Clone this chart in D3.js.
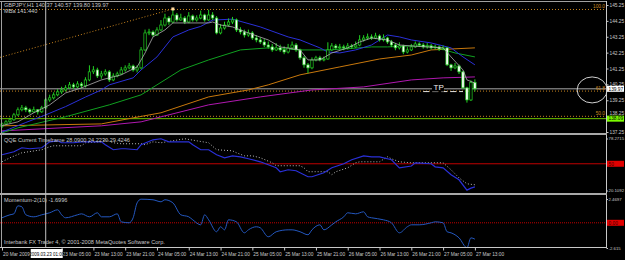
<!DOCTYPE html>
<html>
<head>
<meta charset="utf-8">
<script src="https://cdn.jsdelivr.net/npm/d3@7"></script>
<style>
body { margin: 0; background: #000; }
svg { display: block; }
text { font-family: "Liberation Sans", Arial, sans-serif; }
</style>
</head>
<body>
<div id="chart-area"></div>
<script>
// GBPJPY H1, 20-27 Mar 2009
const candleOpen = [137.60,137.76,137.89,138.02,138.33,138.65,138.77,138.65,138.52,138.65,
138.52,138.77,139.27,139.40,139.59,139.78,139.90,140.03,140.22,140.09,
140.28,140.16,140.53,141.04,141.16,140.78,140.91,141.04,140.53,140.78,
140.91,141.16,141.29,141.41,141.16,141.29,142.42,143.49,143.55,143.36,
143.68,143.99,144.43,144.18,144.62,144.31,144.43,144.18,144.56,144.31,
144.43,144.62,144.31,144.62,144.43,143.49,143.80,143.99,144.18,144.31,
143.68,143.55,143.36,143.49,143.17,143.05,142.92,142.73,142.61,142.42,
142.55,142.42,142.29,142.55,142.73,142.42,141.92,141.48,141.29,141.79,
141.92,141.79,141.85,142.42,142.67,142.55,142.61,142.55,142.67,142.61,
142.73,143.05,143.17,143.24,143.17,143.30,143.05,143.17,142.92,142.73,
142.55,142.67,142.29,142.42,142.61,142.80,142.73,142.61,142.67,142.55,
142.61,142.48,142.55,141.48,141.29,141.41,141.04,140.03,139.27,140.37]
const candleHigh = [137.85,138.00,138.15,138.45,138.80,138.95,138.90,138.75,138.85,138.70,
138.90,139.40,139.60,139.75,139.95,140.10,140.20,140.40,140.35,140.45,
140.40,140.70,141.45,141.40,141.30,141.10,141.20,141.15,140.95,141.05,
141.35,141.45,141.60,141.50,141.45,142.60,143.70,143.75,143.65,143.85,
144.30,144.70,144.55,145.05,144.75,144.70,144.55,144.80,144.65,144.60,
144.90,144.70,144.95,144.80,144.55,144.05,144.20,144.40,144.50,144.40,
143.85,143.70,143.70,143.60,143.35,143.20,143.10,142.95,142.80,142.85,
142.75,142.65,142.80,142.95,142.85,142.50,142.05,141.60,141.95,142.05,
142.05,142.00,142.90,142.85,142.80,142.80,142.75,142.85,142.80,142.95,
143.35,143.35,143.45,143.40,143.50,143.40,143.40,143.25,143.05,142.85,
142.90,142.75,142.60,142.80,142.95,142.90,142.85,142.85,142.80,142.75,
142.70,142.70,142.60,141.55,141.60,141.50,141.10,140.10,140.50,140.57]
const candleLow = [137.50,137.68,137.80,137.95,138.25,138.55,138.50,138.40,138.45,138.35,
138.45,138.70,139.15,139.30,139.50,139.65,139.80,139.95,139.95,140.00,
140.00,140.05,140.45,140.90,140.65,140.60,140.80,140.40,140.45,140.70,
140.85,141.05,141.20,141.05,141.00,141.20,142.35,143.35,143.25,143.30,
143.60,143.90,144.00,144.10,144.20,144.25,144.05,144.10,144.20,144.20,
144.35,144.20,144.25,144.30,143.40,143.40,143.70,143.90,144.05,143.55,
143.40,143.20,143.25,143.05,142.90,142.80,142.60,142.50,142.30,142.35,
142.30,142.15,142.20,142.45,142.30,141.80,141.30,140.95,141.20,141.70,
141.70,141.70,141.80,142.35,142.45,142.45,142.40,142.45,142.50,142.55,
142.65,142.95,143.05,143.05,143.10,142.95,142.95,142.80,142.60,142.40,
142.45,142.15,142.20,142.35,142.55,142.60,142.50,142.50,142.45,142.45,
142.35,142.40,141.40,141.10,141.20,140.90,139.95,139.10,139.20,139.80]
const candleClose = [137.76,137.89,138.02,138.33,138.65,138.77,138.65,138.52,138.65,138.52,
138.77,139.27,139.40,139.59,139.78,139.90,140.03,140.22,140.09,140.28,
140.16,140.53,141.04,141.16,140.78,140.91,141.04,140.53,140.78,140.91,
141.16,141.29,141.41,141.16,141.29,142.42,143.49,143.55,143.36,143.68,
143.99,144.43,144.18,144.62,144.31,144.43,144.18,144.56,144.31,144.43,
144.62,144.31,144.62,144.43,143.49,143.80,143.99,144.18,144.31,143.68,
143.55,143.36,143.49,143.17,143.05,142.92,142.73,142.61,142.42,142.55,
142.42,142.29,142.55,142.73,142.42,141.92,141.48,141.29,141.79,141.92,
141.79,141.85,142.42,142.67,142.55,142.61,142.55,142.67,142.61,142.73,
143.05,143.17,143.24,143.17,143.30,143.05,143.17,142.92,142.73,142.55,
142.67,142.29,142.42,142.61,142.80,142.73,142.61,142.67,142.55,142.61,
142.48,142.55,141.48,141.29,141.41,141.04,140.03,139.27,140.37,139.97]

// moving averages, sampled at bar indexes
const maFastIdx = [0,4,8,12,16,20,25,30,34,36,38,41,43,47,52,53,55,58,62,67,70,75,77,80,83,87,90,93,97,100,103,111,113,116,117,119]
const maFastVal = [137.65,137.89,138.46,138.96,139.71,140.03,140.53,140.85,141.35,142.23,143.24,143.68,144.12,144.12,144.12,144.18,143.99,143.87,143.49,143.05,142.61,142.42,141.79,141.79,142.23,142.55,142.92,143.17,143.05,142.73,142.67,142.55,141.98,141.16,140.53,140.34]
const maBlueIdx = [0,6,11,16,21,25,27,33,35,39,43,47,50,53,58,65,72,75,80,82,85,89,93,97,100,103,108,113,116,119]
const maBlueVal = [137.25,137.85,138.33,138.85,139.45,139.90,140.22,140.66,141.16,141.98,143.24,143.68,143.90,144.30,144.36,143.87,143.24,143.05,142.55,142.29,142.23,142.42,142.73,143.36,143.24,143.05,142.86,142.55,141.98,141.48]
const maGreenIdx = [0,4,16,27,35,39,45,52,60,67,75,82,86,93,97,103,108,114,119]
const maGreenVal = [137.20,137.51,138.21,138.96,139.59,140.22,141.16,141.79,142.42,142.55,142.42,142.42,142.48,142.61,142.61,142.67,142.67,142.23,141.98]
const maOrangeIdx = [0,25,33,40,52,62,67,75,85,95,103,108,119]
const maOrangeVal = [137.64,137.76,138.14,138.46,139.46,139.90,140.22,140.85,141.35,141.85,142.10,142.42,142.55]
const maMagentaIdx = [0,25,35,52,65,78,91,103,111,119]
const maMagentaVal = [137.32,137.64,137.89,138.96,139.46,139.90,140.09,140.53,140.66,140.72]

// fibonacci retracement + trend line
const fibHigh = 145.00
const fibLow = 131.54
const fibLevels = [100, 61.8, 50]
const trendIdx = [-0.5, 43]
const trendVal = [141.95, 145.00]

const bidPrice = 139.97
const stopPrice = 138.09
const tpPrice = 139.86
const tpIdx = [106, 116]

// QQE
const qqeIdx = [0,3,5,7,10,12,14,15,18,20,23,25,26,28,30,31,34,35,38,40,42,44,47,48,50,52,54,56,58,60,62,65,69,70,72,74,77,78,81,83,86,88,91,93,95,98,100,103,104,108,109,111,113,115,117,118,119]
const qqeVal = [60.1,63.4,67.9,66.8,67.9,74.6,75.7,73.5,73.5,74.6,74.6,74.6,71.3,65.7,66.8,66.8,65.7,71.3,76.8,78.0,74.6,74.6,74.6,71.3,65.7,65.7,60.1,56.7,58.9,57.8,55.6,52.2,45.5,41.1,43.3,42.2,35.5,35.5,39.9,45.5,50.0,54.5,58.9,57.8,57.8,54.5,45.5,47.5,51.1,50.0,46.6,45.5,37.7,32.1,20.5,22.8,24.2]
const qqeTrailIdx = [0,2,5,10,12,13,20,21,25,26,28,30,35,36,38,40,46,49,52,54,58,59,61,63,65,68,69,75,76,77,82,83,84,87,89,90,95,97,98,100,103,111,113,115,117,119]
const qqeTrailVal = [52.2,56.7,62.3,65.7,69.0,70.1,70.1,73.5,74.6,76.8,73.5,72.4,72.4,71.3,74.6,73.5,78.0,75.7,73.5,65.7,64.5,62.3,58.9,58.9,56.7,51.1,47.8,47.8,45.5,41.1,41.1,37.7,41.1,45.5,51.1,52.2,52.2,57.8,55.6,52.2,51.1,51.1,43.3,34.3,27.6,26.5]

// Momentum
const momIdx = [0,2,3,4,5,6,8,10,12,14,15,16,19,20,22,24,25,27,29,30,32,33,34,35,38,40,41,43,45,47,48,50,51,52,54,55,56,57,59,61,62,64,65,67,69,72,73,75,77,78,80,81,83,84,86,87,89,91,92,93,96,98,100,102,103,105,108,109,111,112,113,115,117,118,119]
const momVal = [0.52,0.83,0.93,1.76,1.66,0.83,0.62,0.83,1.04,1.35,0.83,0.52,0.83,0.93,0.62,1.04,0.62,0.62,0.93,0.10,0.00,0.52,2.07,2.45,2.39,2.18,2.39,2.07,0.83,0.62,0.31,-0.21,0.83,0.31,-0.93,-0.41,-0.73,0.31,0.10,-1.04,-0.73,-0.41,-0.52,-1.45,-0.93,-0.73,-0.73,-0.93,-1.24,-0.73,-0.21,-0.73,-0.21,0.10,0.62,1.04,0.93,1.14,0.62,0.52,0.31,0.00,-1.04,-0.41,-0.21,-0.21,0.00,0.10,0.00,-0.93,-1.04,-1.56,-2.59,-1.56,-1.70]

// axes
const priceTicks = [145.25,144.25,143.25,142.25,141.25,140.25,139.25,138.25,137.25]
const qqeTicks = [78.2715, 20.1092]
const momTicks = [2.4697, -2.615]
const timeTickIdx = [0,15,23,31,39,47,55,63,71,79,87,95,103,111,119]
const timeTickLabels = ["20 Mar 2009","23 Mar 05:00","23 Mar 13:00","23 Mar 21:00","24 Mar 05:00","24 Mar 13:00","24 Mar 21:00","25 Mar 05:00","25 Mar 13:00","25 Mar 21:00","26 Mar 05:00","26 Mar 13:00","26 Mar 21:00","27 Mar 05:00","27 Mar 13:00"]
const crossIdx = 11
const crossLabel = "2009.03.23 01:00"

const W = 625, H = 260
const plotRight = 606
const fontSize = 5.6
const axisFont = 4.8
const txt = "#c8c8c8"

const svg = d3.select("#chart-area").append("svg")
    .attr("width", W)
    .attr("height", H)
    .style("background", "#000")

// Scales
const x = d3.scaleLinear().domain([0, 119]).range([2, 474.9])
const yMain = d3.scaleLinear().domain([137.25, 145.25]).range([132, 5])
const yQqe = d3.scaleLinear().domain([20.1092, 78.2715]).range([190.5, 138.5])
const yMom = d3.scaleLinear().domain([-2.615, 2.4697]).range([248, 199])

const defs = svg.append("defs")
const addClip = (id, y0, y1) => defs.append("clipPath").attr("id", id)
    .append("rect").attr("x", 0).attr("y", y0).attr("width", plotRight).attr("height", y1 - y0)
addClip("clip-main", 2, 133)
addClip("clip-qqe", 135, 193)
addClip("clip-mom", 196, 247)

const lineOf = (ys) => d3.line().x(d => x(d[0])).y(d => ys(d[1]))

// ---------- main pane ----------
const main = svg.append("g").attr("clip-path", "url(#clip-main)")

fibLevels.forEach(lvl => {
    const p = fibLow + (fibHigh - fibLow) * lvl / 100
    main.append("line")
        .attr("x1", 0).attr("x2", plotRight)
        .attr("y1", yMain(p) + 0.5).attr("y2", yMain(p) + 0.5)
        .attr("stroke", "#c8841e")
        .attr("stroke-dasharray", "1,2")
})

main.append("path")
    .attr("d", lineOf(yMain)(d3.zip(trendIdx, trendVal)))
    .attr("fill", "none")
    .attr("stroke", "#c8841e")
    .attr("stroke-dasharray", "1,2")

main.append("line")
    .attr("x1", 0).attr("x2", plotRight)
    .attr("y1", yMain(bidPrice)).attr("y2", yMain(bidPrice))
    .attr("stroke", "#a8a8a8")
main.append("line")
    .attr("x1", 0).attr("x2", plotRight)
    .attr("y1", yMain(stopPrice)).attr("y2", yMain(stopPrice))
    .attr("stroke", "#6cc400")

// slow MAs under the candles
const maDefs = [
    [maMagentaIdx, maMagentaVal, "#b018b0"],
    [maOrangeIdx, maOrangeVal, "#c8780c"],
    [maGreenIdx, maGreenVal, "#10a020"],
    [maBlueIdx, maBlueVal, "#2a30d8"]
]
maDefs.forEach(([idx, val, col]) => {
    main.append("path")
        .attr("d", lineOf(yMain)(d3.zip(idx, val)))
        .attr("fill", "none")
        .attr("stroke", col)
        .attr("stroke-width", 1)
})

// candles
const bars = d3.range(candleClose.length)
const candle = main.selectAll(".candle").data(bars).enter().append("g")
candle.append("line")
    .attr("x1", i => x(i)).attr("x2", i => x(i))
    .attr("y1", i => yMain(candleHigh[i])).attr("y2", i => yMain(candleLow[i]))
    .attr("stroke", "#22d022")
candle.append("rect")
    .attr("x", i => x(i) - 1.2)
    .attr("width", 2.4)
    .attr("y", i => yMain(Math.max(candleOpen[i], candleClose[i])))
    .attr("height", i => Math.max(0.8, Math.abs(yMain(candleOpen[i]) - yMain(candleClose[i]))))
    .attr("fill", i => candleClose[i] < candleOpen[i] ? "#ffffff" : "#000")
    .attr("stroke", "#22d022")
    .attr("stroke-width", 0.7)

main.append("path")
    .attr("d", lineOf(yMain)(d3.zip(maFastIdx, maFastVal)))
    .attr("fill", "none")
    .attr("stroke", "#b0b0b0")
    .attr("stroke-width", 0.8)

// fib anchor marker
main.append("rect")
    .attr("x", x(trendIdx[1]) - 1.5).attr("y", yMain(trendVal[1]) - 1.5)
    .attr("width", 3).attr("height", 3)
    .attr("fill", "#ffd9a0")

// TP mark
main.append("line")
    .attr("x1", x(tpIdx[0])).attr("x2", x(tpIdx[1]))
    .attr("y1", yMain(tpPrice) + 1).attr("y2", yMain(tpPrice) + 1)
    .attr("stroke", "#e0e0e0")
    .attr("stroke-dasharray", "6,3")
main.append("rect")
    .attr("x", x(tpIdx[0] + 2.2)).attr("y", yMain(tpPrice) - 7)
    .attr("width", 12).attr("height", 8)
    .attr("fill", "#000")
main.append("text")
    .attr("x", x(tpIdx[0] + 2.6)).attr("y", yMain(tpPrice) - 0.5)
    .attr("fill", "#f0f0f0")
    .attr("font-size", "8px")
    .text("TP")

fibLevels.forEach(lvl => {
    const p = fibLow + (fibHigh - fibLow) * lvl / 100
    svg.append("text")
        .attr("x", plotRight - 1).attr("y", yMain(p) - 1)
        .attr("text-anchor", "end")
        .attr("fill", "#c8841e")
        .attr("font-size", axisFont + "px")
        .text(d3.format(".1f")(lvl))
})

svg.append("text").attr("x", 4).attr("y", 7)
    .attr("fill", txt).attr("font-size", fontSize + "px")
    .text("GBPJPY,H1  140.37 140.57 139.80 139.97")
svg.append("text").attr("x", 4).attr("y", 13)
    .attr("fill", txt).attr("font-size", fontSize + "px")
    .text("MBa 141.440")

// ---------- QQE pane ----------
const qqe = svg.append("g").attr("clip-path", "url(#clip-qqe)")
qqe.append("line")
    .attr("x1", 0).attr("x2", plotRight)
    .attr("y1", yQqe(50)).attr("y2", yQqe(50))
    .attr("stroke", "#c00000")
qqe.append("path")
    .attr("d", lineOf(yQqe)(d3.zip(qqeTrailIdx, qqeTrailVal)))
    .attr("fill", "none")
    .attr("stroke", "#b8b8b8")
    .attr("stroke-dasharray", "1,2")
qqe.append("path")
    .attr("d", lineOf(yQqe)(d3.zip(qqeIdx, qqeVal)))
    .attr("fill", "none")
    .attr("stroke", "#2a30d8")
    .attr("stroke-width", 1.2)
svg.append("text").attr("x", 4).attr("y", 142)
    .attr("fill", txt).attr("font-size", fontSize + "px")
    .text("QQE Current Timeframe 28.0900 24.2230 29.4246")

// ---------- Momentum pane ----------
const mom = svg.append("g").attr("clip-path", "url(#clip-mom)")
mom.append("line")
    .attr("x1", 0).attr("x2", plotRight)
    .attr("y1", yMom(0)).attr("y2", yMom(0))
    .attr("stroke", "#c00000")
    .attr("stroke-dasharray", "1,1")
mom.append("path")
    .attr("d", lineOf(yMom).curve(d3.curveMonotoneX)(d3.zip(momIdx, momVal)))
    .attr("fill", "none")
    .attr("stroke", "#2458c0")
    .attr("stroke-width", 1)
svg.append("text").attr("x", 4).attr("y", 202)
    .attr("fill", txt).attr("font-size", fontSize + "px")
    .text("Momentum-2(10) -1.6996")
svg.append("text").attr("x", 4).attr("y", 244)
    .attr("fill", txt).attr("font-size", fontSize + "px")
    .text("Interbank FX Trader 4, \u00a9 2001-2008 MetaQuotes Software Corp.")

// ---------- frame, separators, crosshair ----------
svg.append("line").attr("x1", 0).attr("x2", plotRight).attr("y1", 1.5).attr("y2", 1.5).attr("stroke", "#a0a0a0")
svg.append("line").attr("x1", 1.5).attr("x2", 1.5).attr("y1", 1).attr("y2", 247).attr("stroke", "#a0a0a0")
svg.append("line").attr("x1", plotRight + 0.5).attr("x2", plotRight + 0.5).attr("y1", 1).attr("y2", 247).attr("stroke", "#c8c8c8")
svg.append("rect").attr("x", 0).attr("y", 133).attr("width", plotRight + 1).attr("height", 2).attr("fill", "#a8a8a8")
svg.append("rect").attr("x", 0).attr("y", 193).attr("width", plotRight + 1).attr("height", 2).attr("fill", "#a8a8a8")
svg.append("line").attr("x1", 0).attr("x2", plotRight + 1).attr("y1", 247.5).attr("y2", 247.5).attr("stroke", "#c8c8c8")
svg.append("line")
    .attr("x1", x(crossIdx)).attr("x2", x(crossIdx))
    .attr("y1", 1).attr("y2", 247)
    .attr("stroke", "#c0c0c0")

// ---------- axes ----------
const styleAxis = (size) => (g) => {
    g.select(".domain").remove()
    g.selectAll(".tick line").attr("stroke", txt)
    g.selectAll(".tick text").attr("fill", txt).attr("font-size", size + "px")
        .attr("font-family", "Liberation Sans, Arial, sans-serif")
}

const priceAxis = svg.append("g")
    .attr("transform", `translate(${plotRight + 0.5},0)`)
    .call(d3.axisRight(yMain).tickValues(priceTicks).tickSize(2).tickPadding(1).tickFormat(d3.format(".2f")))
    .call(styleAxis(axisFont))
// the terminal lifts this label clear of the stop-level box
priceAxis.selectAll(".tick text").filter(d => d === 138.25).attr("dy", "-0.3em")

svg.append("g")
    .attr("transform", `translate(${plotRight + 0.5},0)`)
    .call(d3.axisRight(yQqe).tickValues(qqeTicks).tickSize(1.5).tickPadding(0.5).tickFormat(d3.format(".4f")))
    .call(styleAxis(4.3))
svg.append("g")
    .attr("transform", `translate(${plotRight + 0.5},0)`)
    .call(d3.axisRight(yMom).tickValues(momTicks).tickSize(1.5).tickPadding(0.5).tickFormat(d => d === momTicks[1] ? "-2.615" : d3.format(".4f")(d)))
    .call(styleAxis(4.3))

// price/level boxes on the right scale
const axisBox = (yPos, label, bg, fg) => {
    svg.append("rect")
        .attr("x", plotRight + 1).attr("y", yPos - 3)
        .attr("width", 17).attr("height", 6)
        .attr("fill", bg)
    svg.append("text")
        .attr("x", plotRight + 2.5).attr("y", yPos + 1.8)
        .attr("fill", fg).attr("font-size", axisFont + "px")
        .text(label)
}
axisBox(yMain(bidPrice), d3.format(".2f")(bidPrice), "#ffffff", "#000")
axisBox(yMain(stopPrice), d3.format(".2f")(stopPrice), "#7cfc00", "#000")
axisBox(yQqe(50), "50", "#e00000", "#400000")
axisBox(yMom(0), "0.00", "#e00000", "#400000")

const timeAxis = svg.append("g")
    .attr("transform", "translate(0,247.5)")
    .call(d3.axisBottom(x).tickValues(timeTickIdx).tickSize(3).tickPadding(2).tickFormat((d, i) => timeTickLabels[i]))
    .call(styleAxis(axisFont))
timeAxis.selectAll(".tick text").attr("text-anchor", "start").attr("dx", "0.5")

// crosshair time box
svg.append("rect")
    .attr("x", x(crossIdx) - 15).attr("y", 249)
    .attr("width", 32).attr("height", 9)
    .attr("fill", "#ffffff")
svg.append("text")
    .attr("x", x(crossIdx) + 1).attr("y", 255.8)
    .attr("text-anchor", "middle")
    .attr("fill", "#000").attr("font-size", "4.5px")
    .text(crossLabel)

// annotation circle around the retracement area
svg.append("ellipse")
    .attr("cx", x(148.5)).attr("cy", yMain(139.9))
    .attr("rx", 15).attr("ry", 13)
    .attr("fill", "none")
    .attr("stroke", "#d0d0d0")
</script>
</body>
</html>
